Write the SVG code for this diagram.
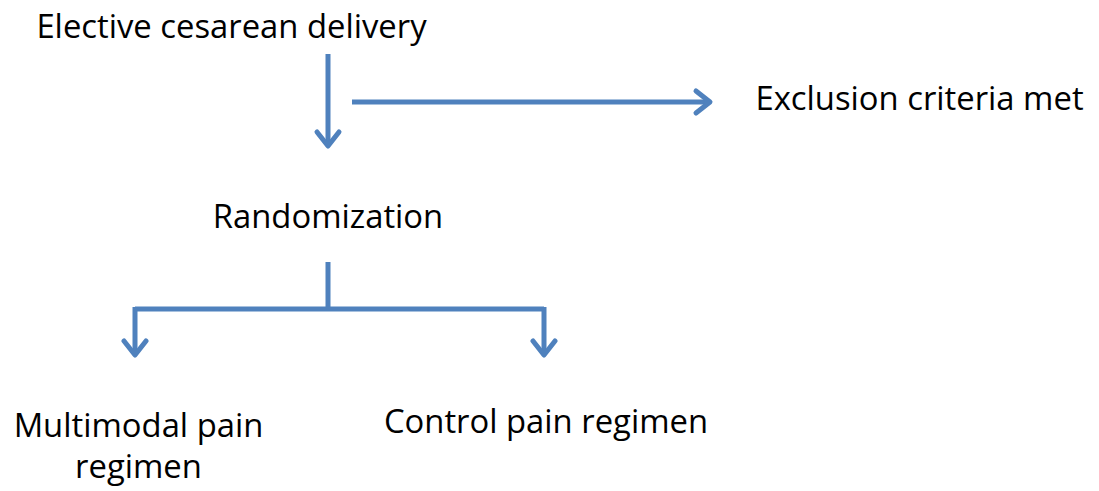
<svg xmlns="http://www.w3.org/2000/svg" width="1099" height="491" viewBox="0 0 1099 491">
<style>
.t{font-family:"Open Sans","Liberation Sans",sans-serif;font-size:32.8px;fill:#000;text-anchor:middle}
.c{stroke:#4F81BD;stroke-width:5;fill:none}
.h{stroke:#4F81BD;stroke-width:5;fill:none;stroke-linecap:round;stroke-linejoin:round}
</style>
<rect width="1099" height="491" fill="#fff"/>
<g id="n-elective"><text class="t" x="231.5" y="38">Elective cesarean delivery</text></g>
<g id="n-exclusion"><text class="t" x="919.5" y="110">Exclusion criteria met</text></g>
<g id="n-random"><text class="t" x="328" y="228">Randomization</text></g>
<g id="n-multimodal"><text class="t" x="138.5" y="437">Multimodal pain</text><text class="t" x="138.5" y="478">regimen</text></g>
<g id="n-control"><text class="t" x="546" y="433">Control pain regimen</text></g>
<g id="connectors">
<path class="c" d="M328 54V146"/>
<path class="h" d="M317 132L328 146L339 132"/>
<path class="c" d="M352 102H710"/>
<path class="h" d="M696 91L710 102L696 113"/>
<path class="c" d="M328 262V309M135 309H544M135 307V355M544 307V355"/>
<path class="h" d="M124 341L135 355L146 341M533 341L544 355L555 341"/>
</g>
</svg>
